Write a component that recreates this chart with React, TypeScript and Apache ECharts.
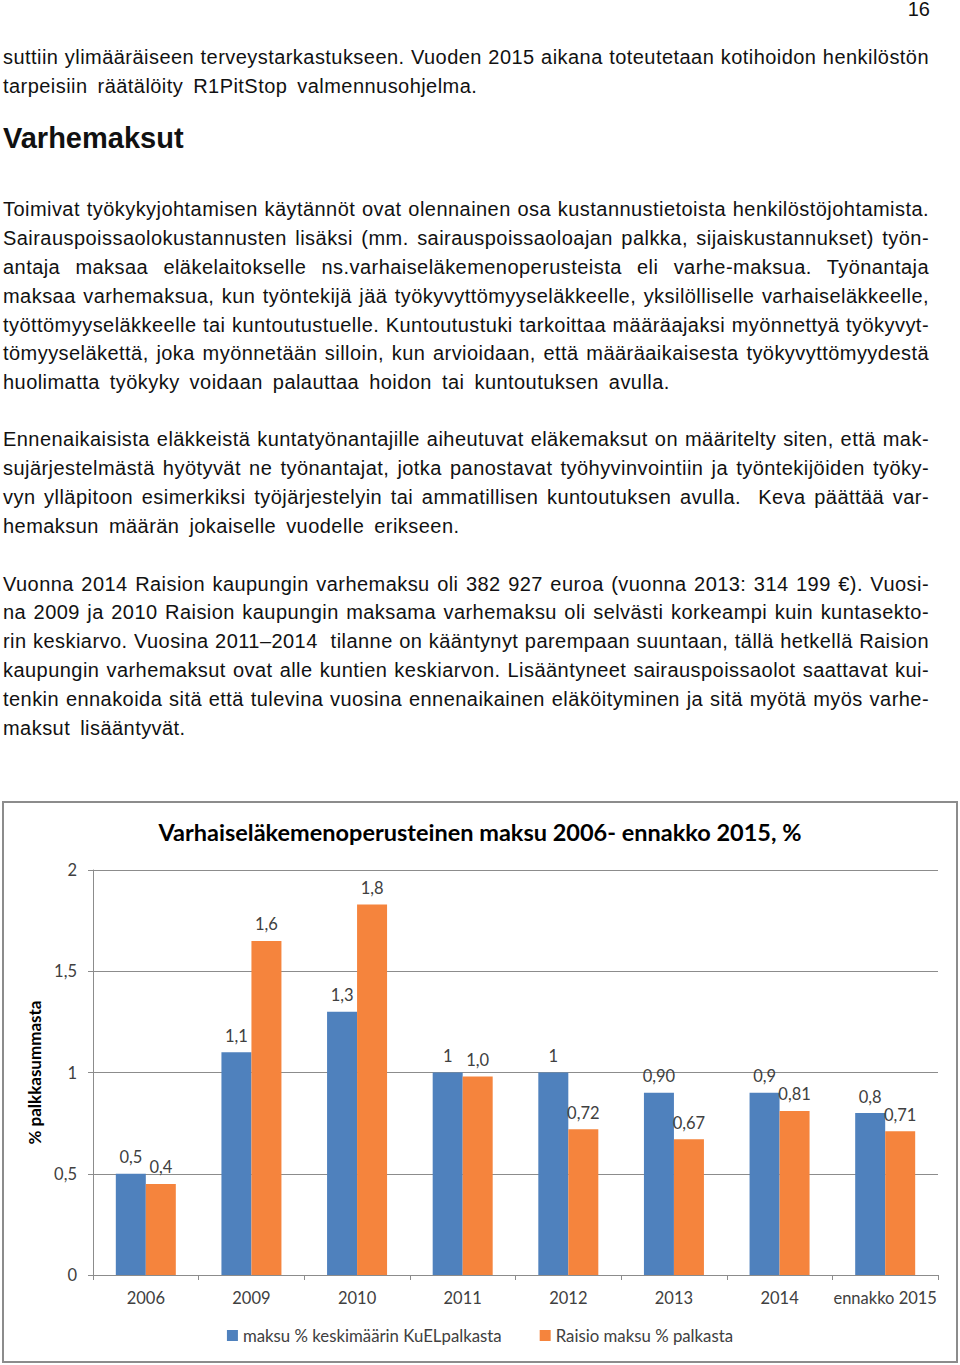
import React, { useEffect, useLayoutEffect, useRef, useState } from 'react';
import * as echarts from 'echarts';

// chart data
const categories = ['2006', '2009', '2010', '2011', '2012', '2013', '2014', 'ennakko 2015'];
const avgValues = [0.5, 1.1, 1.3, 1.0, 1.0, 0.9, 0.9, 0.8];
const raisioValues = [0.45, 1.65, 1.83, 0.98, 0.72, 0.67, 0.81, 0.71];
const avgLabels = ['0,5', '1,1', '1,3', '1', '1', '0,90', '0,9', '0,8'];
const raisioLabels = ['0,4', '1,6', '1,8', '1,0', '0,72', '0,67', '0,81', '0,71'];
const seriesNames = ['maksu % keskimäärin KuELpalkasta', 'Raisio maksu % palkasta'];
const chartTitle = 'Varhaiseläkemenoperusteinen maksu 2006- ennakko 2015, %';
const yName = '% palkkasummasta';

// page text, one entry per printed line
const introLines = [
    'suttiin ylimääräiseen terveystarkastukseen. Vuoden 2015 aikana toteutetaan kotihoidon henkilöstön',
    'tarpeisiin räätälöity R1PitStop valmennusohjelma.',
];
const para1 = [
    'Toimivat työkykyjohtamisen käytännöt ovat olennainen osa kustannustietoista henkilöstöjohtamista.',
    'Sairauspoissaolokustannusten lisäksi (mm. sairauspoissaoloajan palkka, sijaiskustannukset) työn-',
    'antaja maksaa eläkelaitokselle ns.varhaiseläkemenoperusteista eli varhe-maksua. Työnantaja',
    'maksaa varhemaksua, kun työntekijä jää työkyvyttömyyseläkkeelle, yksilölliselle varhaiseläkkeelle,',
    'työttömyyseläkkeelle tai kuntoutustuelle. Kuntoutustuki tarkoittaa määräajaksi myönnettyä työkyvyt-',
    'tömyyseläkettä, joka myönnetään silloin, kun arvioidaan, että määräaikaisesta työkyvyttömyydestä',
    'huolimatta työkyky voidaan palauttaa hoidon tai kuntoutuksen avulla.',
];
const para2 = [
    'Ennenaikaisista eläkkeistä kuntatyönantajille aiheutuvat eläkemaksut on määritelty siten, että mak-',
    'sujärjestelmästä hyötyvät ne työnantajat, jotka panostavat työhyvinvointiin ja työntekijöiden työky-',
    'vyn ylläpitoon esimerkiksi työjärjestelyin tai ammatillisen kuntoutuksen avulla.  Keva päättää var-',
    'hemaksun määrän jokaiselle vuodelle erikseen.',
];
const para3 = [
    'Vuonna 2014 Raision kaupungin varhemaksu oli 382 927 euroa (vuonna 2013: 314 199 €). Vuosi-',
    'na 2009 ja 2010 Raision kaupungin maksama varhemaksu oli selvästi korkeampi kuin kuntasekto-',
    'rin keskiarvo. Vuosina 2011–2014  tilanne on kääntynyt parempaan suuntaan, tällä hetkellä Raision',
    'kaupungin varhemaksut ovat alle kuntien keskiarvon. Lisääntyneet sairauspoissaolot saattavat kui-',
    'tenkin ennakoida sitä että tulevina vuosina ennenaikainen eläköityminen ja sitä myötä myös varhe-',
    'maksut lisääntyvät.',
];

const BODY_FONT = '"Liberation Sans", Arial, Helvetica, sans-serif';
const CHART_FONT = 'Lato, "Open Sans", sans-serif';
const LINE_H = 28.8;
const TEXT_W = 926;
const LAST_WS = 4;

// one printed line; justified lines get their word spacing measured to fill the column
const Line: React.FC<{ text: string; top: number; justify: boolean }> = ({ text, top, justify }) => {
    const ref = useRef<HTMLSpanElement>(null);
    const [ws, setWs] = useState(justify ? 0 : LAST_WS);

    useLayoutEffect(() => {
        if (!justify || !ref.current) return;
        const spaces = (text.match(/ /g) || []).length;
        if (!spaces) return;
        ref.current.style.wordSpacing = '0px';
        const w = ref.current.getBoundingClientRect().width;
        setWs((TEXT_W - w) / spaces);
    }, [text, justify]);

    return (
        <div
            style={{
                position: 'absolute',
                left: 3,
                top,
                height: LINE_H,
                lineHeight: LINE_H + 'px',
                fontSize: 20,
                letterSpacing: '0.45px',
                whiteSpace: 'pre',
                fontFamily: BODY_FONT,
                color: '#111',
            }}
        >
            <span ref={ref} style={{ wordSpacing: ws + 'px' }}>
                {text}
            </span>
        </div>
    );
};

const Paragraph: React.FC<{ lines: string[]; baseline: number }> = ({ lines, baseline }) => (
    <>
        {lines.map((t, i) => (
            <Line key={i} text={t} top={baseline + i * LINE_H - 21.4} justify={i < lines.length - 1} />
        ))}
    </>
);

const Chart: React.FC = () => {
    const ref = useRef<HTMLDivElement>(null);

    useEffect(() => {
        if (!ref.current) return;
        const chart = echarts.init(ref.current, null, { renderer: 'svg' });
        const labelStyle = {
            show: true,
            position: 'top' as const,
            distance: 8,
            color: '#404040',
            fontSize: 16.5,
            fontFamily: CHART_FONT,
        };
        chart.setOption({
            animation: false,
            backgroundColor: '#fff',
            title: {
                text: chartTitle,
                left: 'center',
                top: 12,
                textStyle: { fontSize: 23.5, fontWeight: 'bold', color: '#000', fontFamily: CHART_FONT },
            },
            grid: { left: 89, right: 18, top: 67, bottom: 86, containLabel: false },
            legend: {
                bottom: 12,
                left: 'center',
                icon: 'rect',
                itemWidth: 11,
                itemHeight: 11,
                itemGap: 38,
                itemStyle: { borderWidth: 0 },
                textStyle: { fontSize: 16.8, color: '#404040', fontFamily: CHART_FONT },
                data: seriesNames,
            },
            xAxis: {
                type: 'category',
                data: categories,
                axisLine: { lineStyle: { color: '#8c8c8c', width: 1 } },
                axisTick: { show: true, length: 5, alignWithLabel: false, lineStyle: { color: '#8c8c8c' } },
                axisLabel: { interval: 0, color: '#404040', fontSize: 16.5, fontFamily: CHART_FONT, margin: 14 },
            },
            yAxis: {
                type: 'value',
                min: 0,
                max: 2,
                interval: 0.5,
                name: yName,
                nameLocation: 'middle',
                nameGap: 46,
                nameTextStyle: { fontSize: 17, fontWeight: 'bold', color: '#000', fontFamily: CHART_FONT },
                axisLine: { show: true, lineStyle: { color: '#8c8c8c', width: 1 } },
                axisTick: { show: true, length: 5, lineStyle: { color: '#8c8c8c' } },
                splitLine: { show: true, lineStyle: { color: '#8c8c8c', width: 1 } },
                axisLabel: {
                    color: '#404040',
                    fontSize: 16.5,
                    fontFamily: CHART_FONT,
                    margin: 16,
                    formatter: (v: number) => String(v).replace('.', ','),
                },
            },
            series: [
                {
                    name: seriesNames[0],
                    type: 'bar',
                    data: avgValues,
                    barWidth: 30,
                    barGap: '0%',
                    itemStyle: { color: '#4F81BD' },
                    label: { ...labelStyle, formatter: (p: any) => avgLabels[p.dataIndex] },
                },
                {
                    name: seriesNames[1],
                    type: 'bar',
                    data: raisioValues,
                    barWidth: 30,
                    barGap: '0%',
                    itemStyle: { color: '#F5843D' },
                    label: { ...labelStyle, formatter: (p: any) => raisioLabels[p.dataIndex] },
                },
            ],
        });
        return () => chart.dispose();
    }, []);

    return (
        <div
            ref={ref}
            style={{
                position: 'absolute',
                left: 2,
                top: 801,
                width: 956,
                height: 562,
                boxSizing: 'border-box',
                border: '2px solid #8c8c8c',
            }}
        />
    );
};

export default function App() {
    return (
        <div style={{ position: 'absolute', left: 0, top: 0, width: 960, height: 1365, background: '#fff' }}>
            <div
                style={{
                    position: 'absolute',
                    right: 30,
                    top: -5,
                    lineHeight: '28.8px',
                    fontSize: 20,
                    fontFamily: BODY_FONT,
                    color: '#111',
                }}
            >
                16
            </div>
            <Paragraph lines={introLines} baseline={64.5} />
            <div
                style={{
                    position: 'absolute',
                    left: 3,
                    top: 118,
                    lineHeight: '40px',
                    fontSize: 29,
                    fontWeight: 'bold',
                    fontFamily: BODY_FONT,
                    color: '#111',
                }}
            >
                Varhemaksut
            </div>
            <Paragraph lines={para1} baseline={216.7} />
            <Paragraph lines={para2} baseline={446.7} />
            <Paragraph lines={para3} baseline={591} />
            <Chart />
        </div>
    );
}
